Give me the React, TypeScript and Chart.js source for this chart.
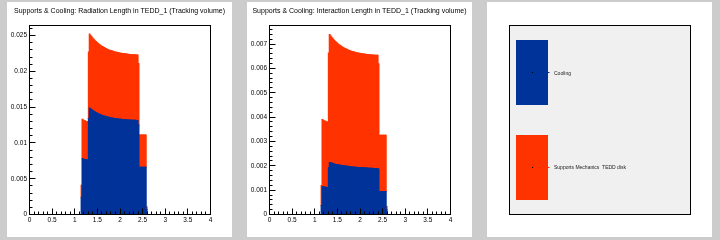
import React, { useEffect, useRef } from 'react';
import { Chart, registerables } from 'chart.js';

Chart.register(...registerables);

// Histogram binning in eta (lower edge of the first filled bin, bin width)
const BIN_START = 1.14;
const BIN_WIDTH = 0.02;

// Radiation length per bin: cooling and supports contributions (stacked)
const radCooling = [
  0.0024,
  0.0078, 0.0078, 0.0077, 0.0077, 0.0077, 0.0076, 0.0076,
  0.0134,
  0.01487, 0.01476, 0.01466, 0.01457, 0.01448, 0.0144, 0.01432, 0.01425, 0.01418, 0.01411,
  0.01405, 0.01399, 0.01394, 0.01389, 0.01384, 0.0138, 0.01375, 0.01371, 0.01368, 0.01364,
  0.01361, 0.01358, 0.01355, 0.01352, 0.01349, 0.01347, 0.01345, 0.01342, 0.0134, 0.01338,
  0.01336, 0.01335, 0.01333, 0.01332, 0.0133, 0.01329, 0.01327, 0.01326, 0.01325, 0.01324,
  0.01323, 0.01322, 0.01321, 0.0132, 0.01319, 0.01319, 0.01318, 0.01317, 0.01317, 0.01316,
  0.01316, 0.01315, 0.01314, 0.01314,
  0.0125,
  0.0066, 0.0066, 0.0066, 0.0066, 0.0066, 0.0066, 0.0066, 0.0066,
  0.0007,
];
const radSupports = [
  0.0017,
  0.0055, 0.0054, 0.0054, 0.0054, 0.0053, 0.0054, 0.0053,
  0.0093,
  0.01033, 0.01026, 0.01019, 0.01013, 0.01007, 0.01001, 0.00995, 0.0099, 0.00985, 0.00981,
  0.00977, 0.00973, 0.00969, 0.00965, 0.00962, 0.00959, 0.00956, 0.00953, 0.0095, 0.00948,
  0.00945, 0.00943, 0.00941, 0.00939, 0.00938, 0.00936, 0.00934, 0.00933, 0.00931, 0.0093,
  0.00929, 0.00927, 0.00926, 0.00925, 0.00924, 0.00923, 0.00923, 0.00922, 0.00921, 0.0092,
  0.00919, 0.00919, 0.00918, 0.00918, 0.00917, 0.00916, 0.00916, 0.00916, 0.00915, 0.00915,
  0.00914, 0.00914, 0.00914, 0.00914,
  0.0086,
  0.0045, 0.0045, 0.0045, 0.0045, 0.0045, 0.0045, 0.0045, 0.0045,
  0.0004,
];

// Interaction length per bin: cooling and supports contributions (stacked)
const intCooling = [
  0.00037,
  0.00115, 0.00114, 0.00113, 0.00112, 0.00112, 0.00111, 0.0011,
  0.00193,
  0.00214, 0.00213, 0.00211, 0.0021, 0.00209, 0.002075, 0.002065, 0.002055, 0.00205, 0.002045,
  0.00204, 0.00203, 0.00202, 0.002015, 0.00201, 0.002005, 0.002, 0.001995, 0.00199, 0.001985,
  0.00198, 0.001975, 0.00197, 0.001965, 0.00196, 0.001955, 0.00195, 0.001945, 0.00194, 0.001938,
  0.001935, 0.001932, 0.00193, 0.001927, 0.001925, 0.001922, 0.00192, 0.001917, 0.001915, 0.001912,
  0.00191, 0.001907, 0.001905, 0.001902, 0.0019, 0.001898, 0.001896, 0.001894, 0.001892, 0.00189,
  0.001888, 0.001886, 0.001884, 0.001882,
  0.00187,
  0.00094, 0.00094, 0.00094, 0.00094, 0.00094, 0.00094, 0.00094, 0.00094,
  0.00019,
];
const intSupports = [
  0.00082,
  0.00275, 0.00273, 0.00271, 0.00272, 0.00269, 0.0027, 0.00268,
  0.0047,
  0.00525, 0.005207, 0.005177, 0.005143, 0.005109, 0.005083, 0.005052, 0.005027, 0.004997, 0.00497,
  0.004945, 0.004926, 0.00491, 0.004888, 0.00487, 0.004854, 0.004836, 0.00482, 0.004808, 0.004795,
  0.004782, 0.004773, 0.004763, 0.004753, 0.004747, 0.00474, 0.004733, 0.004727, 0.00472, 0.004713,
  0.004707, 0.004701, 0.004695, 0.004692, 0.004685, 0.004682, 0.004678, 0.004675, 0.004672, 0.004669,
  0.004665, 0.004665, 0.004661, 0.004661, 0.004657, 0.004656, 0.004655, 0.004654, 0.004653, 0.004653,
  0.004652, 0.004651, 0.00465, 0.004652,
  0.00432,
  0.00231, 0.00231, 0.00231, 0.00231, 0.00231, 0.00231, 0.00231, 0.00231,
  0.00014,
];

// Axis ticks
const etaTicks = [0, 0.5, 1, 1.5, 2, 2.5, 3, 3.5, 4];
const radTicks = [0, 0.005, 0.01, 0.015, 0.02, 0.025];
const intTicks = [0, 0.001, 0.002, 0.003, 0.004, 0.005, 0.006, 0.007];

const COOLING_LABEL = 'Cooling';
const SUPPORTS_LABEL = 'Supports Mechanics  TEDD disk';
const BLUE = '#003399';
const RED = '#ff3300';
const FONT = '"Liberation Sans", Arial, Helvetica, sans-serif';

const PANEL_W = 225;
const PANEL_H = 235;

const etaCenters = radCooling.map((_, i) => +(BIN_START + BIN_WIDTH * (i + 0.5)).toFixed(3));

// Frame box, inward major/minor ticks and the pad title, ROOT style
const rootFrame = {
  id: 'rootFrame',
  afterDatasetsDraw(chart: any, _args: any, opts: any) {
    const { ctx, chartArea: a, scales } = chart;
    const xs = scales.x;
    const ys = scales.y;
    if (!xs || !ys || !opts.xMinor) return;
    ctx.save();
    ctx.strokeStyle = '#000';
    ctx.lineWidth = 1;
    ctx.beginPath();
    const isMajor = (scale: any, v: number) =>
      scale.ticks.some((t: any) => Math.abs(t.value - v) < 1e-9);
    const nx = Math.round((xs.max - xs.min) / opts.xMinor);
    for (let i = 0; i <= nx; i++) {
      const v = xs.min + i * opts.xMinor;
      const px = Math.min(Math.floor(xs.getPixelForValue(v)) + 0.5, a.right);
      ctx.moveTo(px, a.bottom);
      ctx.lineTo(px, a.bottom - (isMajor(xs, v) ? 6 : 3));
    }
    const ny = Math.floor((ys.max - ys.min) / opts.yMinor + 1e-6);
    for (let i = 0; i <= ny; i++) {
      const v = ys.min + i * opts.yMinor;
      const py = Math.floor(ys.getPixelForValue(v)) + 0.5;
      ctx.moveTo(a.left, py);
      ctx.lineTo(a.left + (isMajor(ys, v) ? 6 : 3), py);
    }
    ctx.stroke();
    ctx.strokeRect(a.left, a.top, a.right - a.left, a.bottom - a.top);
    ctx.restore();
  },
  afterDraw(chart: any, _args: any, opts: any) {
    if (!opts.title) return;
    const { ctx } = chart;
    ctx.save();
    ctx.fillStyle = '#000';
    ctx.font = `${opts.titleSize}px ${FONT}`;
    ctx.textAlign = 'center';
    ctx.textBaseline = 'middle';
    ctx.fillText(opts.title, chart.width / 2, opts.titleY);
    ctx.restore();
  },
};

// ROOT TLegend-like box drawn from the datasets' labels and colours
const rootLegend = {
  id: 'rootLegend',
  afterDraw(chart: any, _args: any, opts: any) {
    if (!opts.box) return;
    const { ctx } = chart;
    const [l, t, r, b] = opts.box;
    ctx.save();
    ctx.fillStyle = '#f0f0f0';
    ctx.fillRect(l, t, r - l, b - t);
    ctx.strokeStyle = '#000';
    ctx.lineWidth = 1;
    ctx.strokeRect(l, t, r - l, b - t);
    const ds = chart.data.datasets;
    const rowH = (b - t) / ds.length;
    ds.forEach((d: any, i: number) => {
      const cy = t + rowH * (i + 0.5);
      const boxL = l + 6.5;
      const boxW = 32;
      const boxH = 65;
      ctx.fillStyle = d.backgroundColor;
      ctx.fillRect(boxL, Math.round(cy - boxH / 2), boxW, boxH);
      ctx.fillStyle = '#000';
      ctx.fillRect(Math.floor(boxL + boxW / 2), Math.floor(cy), 1, 1);
      ctx.fillStyle = d.backgroundColor;
      ctx.fillRect(boxL + boxW, Math.floor(cy), 1.5, 1);
      ctx.fillStyle = '#222';
      ctx.font = `${opts.fontSize}px ${FONT}`;
      ctx.textAlign = 'left';
      ctx.textBaseline = 'middle';
      ctx.fillText(d.label, boxL + boxW + 6, cy + 0.5);
    });
    ctx.restore();
  },
};

function histConfig(title: string, cooling: number[], supports: number[], yTicks: number[], yMax: number, yMinor: number) {
  const tickFont = { family: FONT, size: 6.5 };
  const barStyle = {
    borderWidth: 0,
    barPercentage: 1,
    categoryPercentage: 1,
    inflateAmount: 0.5,
  };
  return {
    type: 'bar' as const,
    data: {
      datasets: [
        {
          label: COOLING_LABEL,
          data: cooling.map((v, i) => ({ x: etaCenters[i], y: v })),
          backgroundColor: BLUE,
          ...barStyle,
        },
        {
          label: SUPPORTS_LABEL,
          data: supports.map((v, i) => ({ x: etaCenters[i], y: v })),
          backgroundColor: RED,
          ...barStyle,
        },
      ],
    },
    options: {
      animation: false as const,
      responsive: false,
      devicePixelRatio: 1,
      events: [],
      layout: { padding: { left: 0, top: 23.5, right: 21.5, bottom: 0 } },
      scales: {
        x: {
          type: 'linear' as const,
          min: 0,
          max: 4,
          stacked: true,
          offset: false,
          grid: { display: false, drawTicks: false },
          border: { display: false },
          afterBuildTicks: (s: any) => { s.ticks = etaTicks.map((v) => ({ value: v })); },
          afterFit: (s: any) => { s.height = 22.5; },
          ticks: {
            font: tickFont,
            color: '#000',
            padding: 2,
            maxRotation: 0,
            autoSkip: false,
            callback: (v: any) => String(v),
          },
        },
        y: {
          type: 'linear' as const,
          min: 0,
          max: yMax,
          stacked: true,
          grid: { display: false, drawTicks: false },
          border: { display: false },
          afterBuildTicks: (s: any) => { s.ticks = yTicks.map((v) => ({ value: v })); },
          afterFit: (s: any) => { s.width = 22.5; },
          ticks: {
            font: tickFont,
            color: '#000',
            padding: 2.5,
            autoSkip: false,
            callback: (v: any) => String(v),
          },
        },
      },
      plugins: {
        legend: { display: false },
        tooltip: { enabled: false },
        title: { display: false },
        rootFrame: { xMinor: 0.1, yMinor, title, titleY: 9, titleSize: 7 },
      },
    },
    plugins: [rootFrame],
  };
}

function legendConfig() {
  return {
    type: 'bar' as const,
    data: {
      labels: [],
      datasets: [
        { label: COOLING_LABEL, data: [], backgroundColor: BLUE },
        { label: SUPPORTS_LABEL, data: [], backgroundColor: RED },
      ],
    },
    options: {
      animation: false as const,
      responsive: false,
      devicePixelRatio: 1,
      events: [],
      scales: { x: { display: false }, y: { display: false } },
      plugins: {
        legend: { display: false },
        tooltip: { enabled: false },
        rootLegend: { box: [22.5, 23.5, 203.5, 212.5], fontSize: 5 },
      },
    },
    plugins: [rootLegend],
  };
}

function Pad({ left, makeConfig }: { left: number; makeConfig: () => any }) {
  const ref = useRef<HTMLCanvasElement>(null);
  useEffect(() => {
    if (!ref.current) return;
    const chart = new Chart(ref.current, makeConfig());
    return () => chart.destroy();
  }, []);
  return (
    <div style={{ position: 'absolute', left, top: 2, width: PANEL_W, height: PANEL_H, background: '#ffffff' }}>
      <canvas ref={ref} width={PANEL_W} height={PANEL_H} style={{ display: 'block', width: PANEL_W, height: PANEL_H }} />
    </div>
  );
}

export default function App() {
  return (
    <div style={{ position: 'fixed', left: 0, top: 0, width: 720, height: 240, background: '#cccccc', overflow: 'hidden' }}>
      <Pad
        left={7}
        makeConfig={() =>
          histConfig('Supports & Cooling: Radiation Length in TEDD_1 (Tracking volume)', radCooling, radSupports, radTicks, 0.0264, 0.001)
        }
      />
      <Pad
        left={247}
        makeConfig={() =>
          histConfig('Supports & Cooling: Interaction Length in TEDD_1 (Tracking volume)', intCooling, intSupports, intTicks, 0.00776, 0.0002)
        }
      />
      <Pad left={487} makeConfig={legendConfig} />
    </div>
  );
}
